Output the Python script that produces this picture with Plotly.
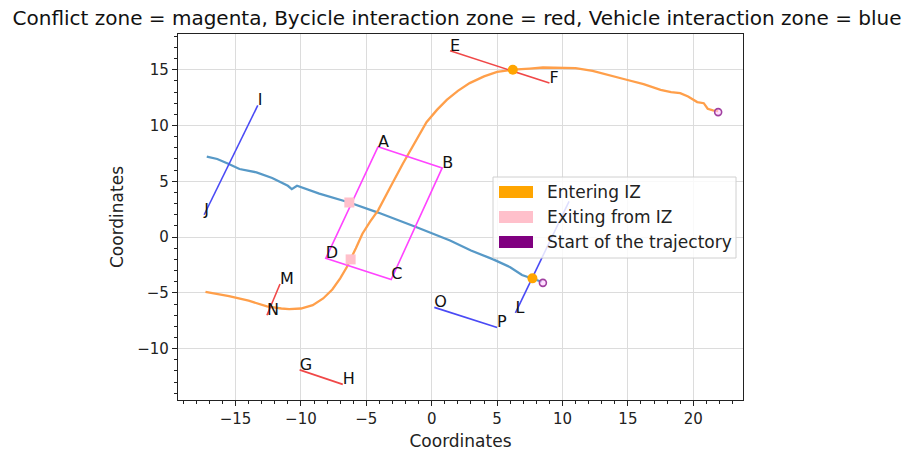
import plotly.graph_objects as go

# ---------------- data ----------------
# Conflict zone rectangle (magenta)
zone_labels = ["A", "B", "C", "D"]
zone_x = [-4.1, 0.8, -3.1, -8.1]
zone_y = [8.1, 6.2, -3.8, -1.9]

# Bicycle interaction zone lines (red)
red_labels = [("E", "F"), ("G", "H"), ("M", "N")]
red_x = [(1.4, 9.0), (-10.1, -6.8), (-11.6, -12.6)]
red_y = [(16.7, 13.8), (-11.9, -13.2), (-4.2, -7.0)]

# Vehicle interaction zone lines (blue); the "K" label sits hidden under the legend
blue_labels = [("I", "J"), ("", "L"), ("O", "P")]
blue_x = [(-13.3, -17.4), (10.5, 6.4), (0.2, 5.0)]
blue_y = [(11.8, 2.0), (3.2, -6.8), (-6.3, -8.1)]

# Bicycle trajectory (orange)
bike_x = [21.9, 21.5, 21.1, 20.9, 20.8, 20.3, 19.6, 19.0, 18.3, 17.5, 16.2, 14.9, 13.6,
          12.3, 11.0, 9.8, 8.5, 7.5, 6.2, 5.0, 4.0, 2.9, 2.0, 1.15, 0.4, -0.4, -1.3,
          -2.2, -3.2, -4.1, -4.7, -5.3, -5.8, -6.2, -6.5, -7.0, -7.6, -8.3, -9.1,
          -10.0, -10.9, -11.5, -12.6, -14.0, -15.5, -17.3]
bike_y = [11.3, 11.35, 11.5, 11.8, 12.0, 12.1, 12.6, 12.9, 13.0, 13.2, 13.7, 14.1, 14.5,
          14.9, 15.15, 15.2, 15.2, 15.1, 15.0, 14.8, 14.4, 13.8, 13.1, 12.3, 11.4, 10.3, 8.5,
          6.6, 4.4, 2.4, 1.4, 0.3, -1.0, -2.0, -2.7, -3.7, -4.7, -5.5, -6.1,
          -6.4, -6.45, -6.4, -6.2, -5.7, -5.3, -4.9]

# Vehicle trajectory (blue)
car_x = [8.4, 7.7, 6.9, 6.0, 4.7, 3.0, 1.4, -1.2, -4.1, -6.3, -8.6, -10.3, -10.7,
         -11.0, -12.2, -13.4, -14.7, -15.6, -16.4, -17.2]
car_y = [-4.0, -3.7, -3.4, -2.7, -2.0, -1.2, -0.3, 0.9, 2.2, 3.1, 3.9, 4.6, 4.3,
         4.6, 5.3, 5.8, 6.1, 6.6, 7.0, 7.2]

# Event points
enter_x = [6.2, 7.7]
enter_y = [15.0, -3.7]
exit_x = [-6.2, -6.3]
exit_y = [-2.0, 3.1]
start_x = [21.9, 8.5]
start_y = [11.2, -4.1]

legend_labels = ["Entering IZ", "Exiting from IZ", "Start of the trajectory"]
legend_colors = ["#ffa500", "#ffc0cb", "#800080"]

title_text = ("Conflict zone = magenta, Bycicle interaction zone = red, "
              "Vehicle interaction zone = blue")

# ---------------- figure ----------------
W, H = 914, 455
L, R, T, B = 178, 743, 34, 400
FONT = "DejaVu Sans"
Y_RANGE = [-14.6, 18.2]
# text baseline sits on the point (matplotlib style): nudge labels down ~4px
label_drop = 4 * (Y_RANGE[1] - Y_RANGE[0]) / (B - T)

fig = go.Figure()

fig.add_trace(go.Scatter(x=car_x, y=car_y, mode="lines",
                         line=dict(color="#5799c7", width=2.3), hoverinfo="skip"))
fig.add_trace(go.Scatter(x=bike_x, y=bike_y, mode="lines",
                         line=dict(color="#ff9f4a", width=2.3), hoverinfo="skip"))

# conflict zone
fig.add_trace(go.Scatter(x=zone_x + [zone_x[0]], y=zone_y + [zone_y[0]], mode="lines",
                         line=dict(color="#ff44ff", width=1.6), hoverinfo="skip"))

lab_x, lab_y, lab_t = list(zone_x), list(zone_y), list(zone_labels)
for (a, b), xs, ys in zip(red_labels, red_x, red_y):
    fig.add_trace(go.Scatter(x=list(xs), y=list(ys), mode="lines",
                             line=dict(color="#f04848", width=1.6), hoverinfo="skip"))
    lab_x += list(xs); lab_y += list(ys); lab_t += [a, b]
for (a, b), xs, ys in zip(blue_labels, blue_x, blue_y):
    fig.add_trace(go.Scatter(x=list(xs), y=list(ys), mode="lines",
                             line=dict(color="#4a4af5", width=1.6), hoverinfo="skip"))
    lab_x += list(xs); lab_y += list(ys); lab_t += [a, b]

fig.add_trace(go.Scatter(x=lab_x, y=[v - label_drop for v in lab_y], mode="text",
                         text=lab_t, textposition="top right",
                         textfont=dict(family=FONT, size=16, color="#111"),
                         hoverinfo="skip"))

fig.add_trace(go.Scatter(x=enter_x, y=enter_y, mode="markers",
                         marker=dict(color="#ffa500", size=10, symbol="circle"),
                         hoverinfo="skip"))
fig.add_trace(go.Scatter(x=exit_x, y=exit_y, mode="markers",
                         marker=dict(color="#ffc0cb", size=10, symbol="square"),
                         hoverinfo="skip"))
fig.add_trace(go.Scatter(x=start_x, y=start_y, mode="markers",
                         marker=dict(color="rgba(255,200,255,0.6)", size=7, symbol="circle",
                                     line=dict(color="#a040a0", width=1.6)),
                         hoverinfo="skip"))

# custom legend (matplotlib-like patches)
pw, ph = R - L, B - T
def px(xp):
    return (xp - L) / pw
def py(yp):
    return (B - yp) / ph

shapes = [dict(type="rect", xref="paper", yref="paper", layer="above",
               x0=px(493), x1=px(736), y0=py(258), y1=py(177),
               fillcolor="rgba(255,255,255,0.82)",
               line=dict(color="#d0d0d0", width=1))]
annotations = []
for i, (lab, col) in enumerate(zip(legend_labels, legend_colors)):
    yc = 192 + 25 * i
    shapes.append(dict(type="rect", xref="paper", yref="paper", layer="above",
                       x0=px(499), x1=px(533), y0=py(yc + 6), y1=py(yc - 6),
                       fillcolor=col, line=dict(width=0)))
    annotations.append(dict(xref="paper", yref="paper", x=px(545), y=py(yc),
                            xanchor="left", yanchor="middle", showarrow=False,
                            text=lab, font=dict(family=FONT, size=17, color="#222")))

axis_common = dict(showline=True, mirror=True, linecolor="#222", linewidth=1.2,
                   ticks="outside", ticklen=5, tickwidth=1, tickcolor="#222",
                   showgrid=True, gridcolor="#dcdcdc", gridwidth=1, zeroline=False,
                   automargin=False,
                   tickfont=dict(family=FONT, size=15, color="#222"),
                   minor=dict(dtick=1, ticks="outside", ticklen=3, tickcolor="#222",
                              showgrid=False))

fig.update_layout(
    width=W, height=H, showlegend=False,
    margin=dict(l=L, r=W - R, t=T, b=H - B),
    plot_bgcolor="white", paper_bgcolor="white",
    title=dict(text=title_text, x=0.5, xanchor="center", xref="container",
               y=1 - 18 / H, yref="container", yanchor="middle",
               font=dict(family=FONT, size=20, color="#111")),
    xaxis=dict(range=[-19.4, 23.8], dtick=5, tick0=0,
               title=dict(text="Coordinates", standoff=8,
                          font=dict(family=FONT, size=17, color="#222")),
               **axis_common),
    yaxis=dict(range=Y_RANGE, dtick=5, tick0=0,
               title=dict(text="Coordinates", standoff=9,
                          font=dict(family=FONT, size=17, color="#222")),
               **axis_common),
    shapes=shapes, annotations=annotations,
)

fig.write_html("out.html")
